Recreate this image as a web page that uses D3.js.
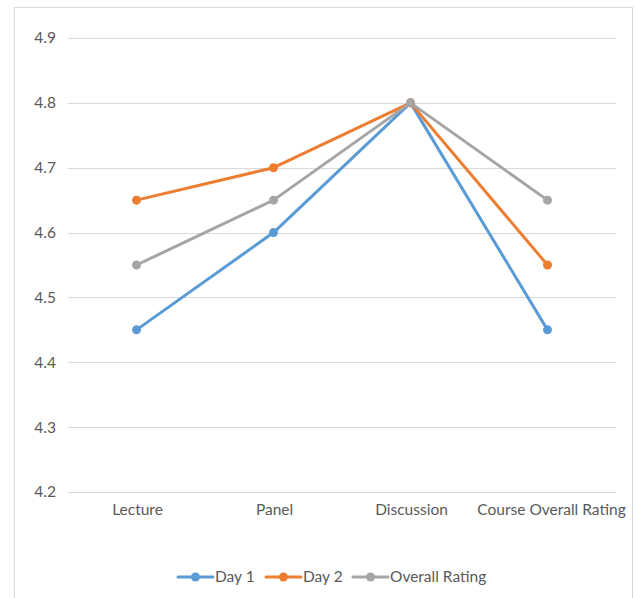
<!DOCTYPE html>
<html>
<head>
<meta charset="utf-8">
<script src="https://cdn.jsdelivr.net/npm/d3@7"></script>
<style>
  html, body { margin: 0; padding: 0; background: #fff; }
  svg { display: block; }
  text { font-family: Lato, "Open Sans", sans-serif; fill: #595959; }
</style>
</head>
<body>
<svg id="chart" width="635" height="598"></svg>
<script>
const categories = ["Lecture", "Panel", "Discussion", "Course Overall Rating"];
const seriesNames = ["Day 1", "Day 2", "Overall Rating"];
const day1 = [4.45, 4.6, 4.8, 4.45];
const day2 = [4.65, 4.7, 4.8, 4.55];
const overall = [4.55, 4.65, 4.8, 4.65];
const yTicks = [4.2, 4.3, 4.4, 4.5, 4.6, 4.7, 4.8, 4.9];
const colors = ["#5B9BD5", "#ED7D31", "#A5A5A5"];

const seriesValues = [day1, day2, overall];

const svg = d3.select("#chart");

// chart frame
svg.append("rect")
  .attr("x", 14.5).attr("y", 7.5)
  .attr("width", 618).attr("height", 600)
  .attr("fill", "none").attr("stroke", "#d9d9d9").attr("stroke-width", 1);

const plotLeft = 68, plotRight = 616, plotTop = 38, plotBottom = 492;

const x = d3.scaleBand().domain(categories).range([plotLeft, plotRight]);
const y = d3.scaleLinear().domain([4.2, 4.9]).range([plotBottom, plotTop]);

// gridlines
svg.append("g").selectAll("line").data(yTicks).join("line")
  .attr("x1", plotLeft).attr("x2", plotRight)
  .attr("y1", d => Math.round(y(d)) + 0.5).attr("y2", d => Math.round(y(d)) + 0.5)
  .attr("stroke", "#d9d9d9").attr("stroke-width", 1);

const fontStack = 'Lato, "Open Sans", sans-serif';
const fontSize = 15.5;

// y axis labels
const yAxis = d3.axisLeft(y).tickValues(yTicks).tickFormat(d3.format(".1f")).tickSize(0).tickPadding(12);
const yg = svg.append("g").attr("transform", `translate(${plotLeft},0)`).call(yAxis);
yg.select(".domain").remove();
yg.selectAll("text").attr("font-size", fontSize).attr("fill", "#595959").style("font-family", fontStack);

// x axis labels; the long last label is nudged right to stay inside the frame
const xAxis = d3.axisBottom(x).tickSize(0).tickPadding(12);
const xg = svg.append("g").attr("transform", `translate(0,${plotBottom})`).call(xAxis);
xg.select(".domain").remove();
xg.selectAll("text").attr("font-size", fontSize).attr("fill", "#595959").style("font-family", fontStack)
  .attr("dx", (d, i) => i === categories.length - 1 ? 4 : 1);

const cx = d => x(d) + x.bandwidth() / 2;
const line = d3.line().x((d, i) => cx(categories[i])).y(d => y(d));

seriesValues.forEach((vals, s) => {
  const g = svg.append("g");
  g.append("path").datum(vals)
    .attr("d", line)
    .attr("fill", "none")
    .attr("stroke", colors[s])
    .attr("stroke-width", 3)
    .attr("stroke-linejoin", "round")
    .attr("stroke-linecap", "round");
  g.selectAll("circle").data(vals).join("circle")
    .attr("cx", (d, i) => cx(categories[i]))
    .attr("cy", d => y(d))
    .attr("r", 4.5)
    .attr("fill", colors[s]);
});

// legend
const legendX = [178, 266, 353];
const legendY = 577;
const lg = svg.append("g");
seriesNames.forEach((name, s) => {
  const g = lg.append("g").attr("transform", `translate(${legendX[s]},${legendY})`);
  g.append("line").attr("x1", 0).attr("x2", 35).attr("y1", 0).attr("y2", 0)
    .attr("stroke", colors[s]).attr("stroke-width", 3).attr("stroke-linecap", "round");
  g.append("circle").attr("cx", 17.5).attr("cy", 0).attr("r", 4.5).attr("fill", colors[s]);
  g.append("text").attr("x", 37).attr("y", 0).attr("dy", "0.35em")
    .attr("font-size", fontSize).text(name);
});
</script>
</body>
</html>
